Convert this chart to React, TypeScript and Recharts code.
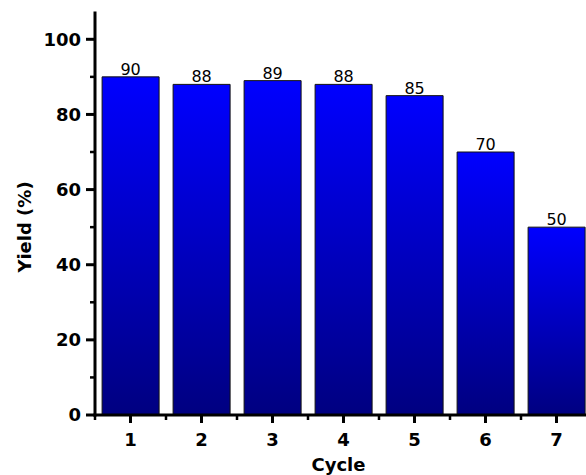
import React from 'react';
import { BarChart, Bar, XAxis, YAxis, LabelList } from 'recharts';

// Catalyst reuse: yield per cycle
const cycles = ['1', '2', '3', '4', '5', '6', '7'];
const yields = [90, 88, 89, 88, 85, 70, 50];
const yTicks = [0, 10, 20, 30, 40, 50, 60, 70, 80, 90, 100];
const yMajor = [0, 20, 40, 60, 80, 100];
const yMax = 107;

const data = cycles.map((c, i) => ({ cycle: c, value: yields[i] }));

const W = 592;
const H = 475;
const MARGIN = { top: 13, right: 0, bottom: 0, left: 0 };
const Y_AXIS_W = 95;
const X_AXIS_H = 60;
const BAND = (W - MARGIN.left - MARGIN.right - Y_AXIS_W) / cycles.length;

const FONT = "'DejaVu Sans', Verdana, sans-serif";
const Y_TICK_SIZE = 9;
const Y_TICK_MARGIN = 5;
const X_TICK_SIZE = 8;

const YTick = (props: any) => {
  const { x, y, payload } = props;
  const axisX = x + Y_TICK_SIZE + Y_TICK_MARGIN;
  const major = yMajor.includes(payload.value);
  return (
    <g>
      <line
        x1={axisX}
        x2={axisX - (major ? Y_TICK_SIZE : 5)}
        y1={y}
        y2={y}
        stroke="#000"
        strokeWidth={major ? 3 : 2.5}
      />
      {major && (
        <text
          x={x}
          y={y}
          dy="0.36em"
          textAnchor="end"
          fontFamily={FONT}
          fontWeight="bold"
          fontSize={18}
          fill="#000"
        >
          {payload.value}
        </text>
      )}
    </g>
  );
};

const XTick = (props: any) => {
  const { x, y, payload } = props;
  const axisY = y - X_TICK_SIZE;
  return (
    <g>
      <line x1={x} x2={x} y1={axisY} y2={axisY + X_TICK_SIZE} stroke="#000" strokeWidth={3} />
      <line
        x1={x - BAND / 2}
        x2={x - BAND / 2}
        y1={axisY}
        y2={axisY + 5}
        stroke="#000"
        strokeWidth={2.5}
      />
      <text
        x={x}
        y={axisY + 31}
        textAnchor="middle"
        fontFamily={FONT}
        fontWeight="bold"
        fontSize={18}
        fill="#000"
      >
        {payload.value}
      </text>
    </g>
  );
};

const ValueLabel = (props: any) => {
  const { x, y, width, value } = props;
  return (
    <text
      x={x + width / 2}
      y={y - 2}
      textAnchor="middle"
      fontFamily={FONT}
      fontSize={16}
      fill="#000"
    >
      {value}
    </text>
  );
};

const YTitle = (props: any) => {
  const { viewBox } = props;
  const cx = viewBox.x + 31;
  const cy = viewBox.y + viewBox.height / 2 + 13;
  return (
    <text
      x={cx}
      y={cy}
      transform={`rotate(-90, ${cx}, ${cy})`}
      textAnchor="middle"
      fontFamily={FONT}
      fontWeight="bold"
      fontSize={18}
      fill="#000"
    >
      Yield (%)
    </text>
  );
};

const XTitle = (props: any) => {
  const { viewBox } = props;
  const cx = viewBox.x + viewBox.width / 2 - 5;
  const by = viewBox.y + 56;
  return (
    <text
      x={cx}
      y={by}
      textAnchor="middle"
      fontFamily={FONT}
      fontWeight="bold"
      fontSize={18}
      fill="#000"
    >
      Cycle
    </text>
  );
};

export default function App() {
  return (
    <div
      style={{
        position: 'fixed',
        left: 0,
        top: 0,
        width: 586,
        height: 475,
        overflow: 'hidden',
        background: '#fff',
      }}
    >
      <BarChart width={W} height={H} data={data} margin={MARGIN} barCategoryGap="10%">
        <defs>
          <linearGradient id="barGrad" x1="0" y1="0" x2="0" y2="1">
            <stop offset="0%" stopColor="#0000ff" />
            <stop offset="100%" stopColor="#000080" />
          </linearGradient>
        </defs>
        <XAxis
          dataKey="cycle"
          type="category"
          height={X_AXIS_H}
          interval={0}
          tickSize={X_TICK_SIZE}
          tickMargin={0}
          tickLine={false}
          tick={<XTick />}
          axisLine={{ stroke: '#000', strokeWidth: 3, strokeLinecap: 'square' }}
          label={{ content: <XTitle /> }}
        />
        <YAxis
          type="number"
          domain={[0, yMax]}
          ticks={yTicks}
          interval={0}
          width={Y_AXIS_W}
          tickSize={Y_TICK_SIZE}
          tickMargin={Y_TICK_MARGIN}
          tickLine={false}
          tick={<YTick />}
          axisLine={{ stroke: '#000', strokeWidth: 3, strokeLinecap: 'square' }}
          label={{ content: <YTitle /> }}
        />
        <Bar
          dataKey="value"
          fill="url(#barGrad)"
          stroke="#111"
          strokeWidth={1}
          isAnimationActive={false}
        >
          <LabelList dataKey="value" content={<ValueLabel />} />
        </Bar>
      </BarChart>
    </div>
  );
}
